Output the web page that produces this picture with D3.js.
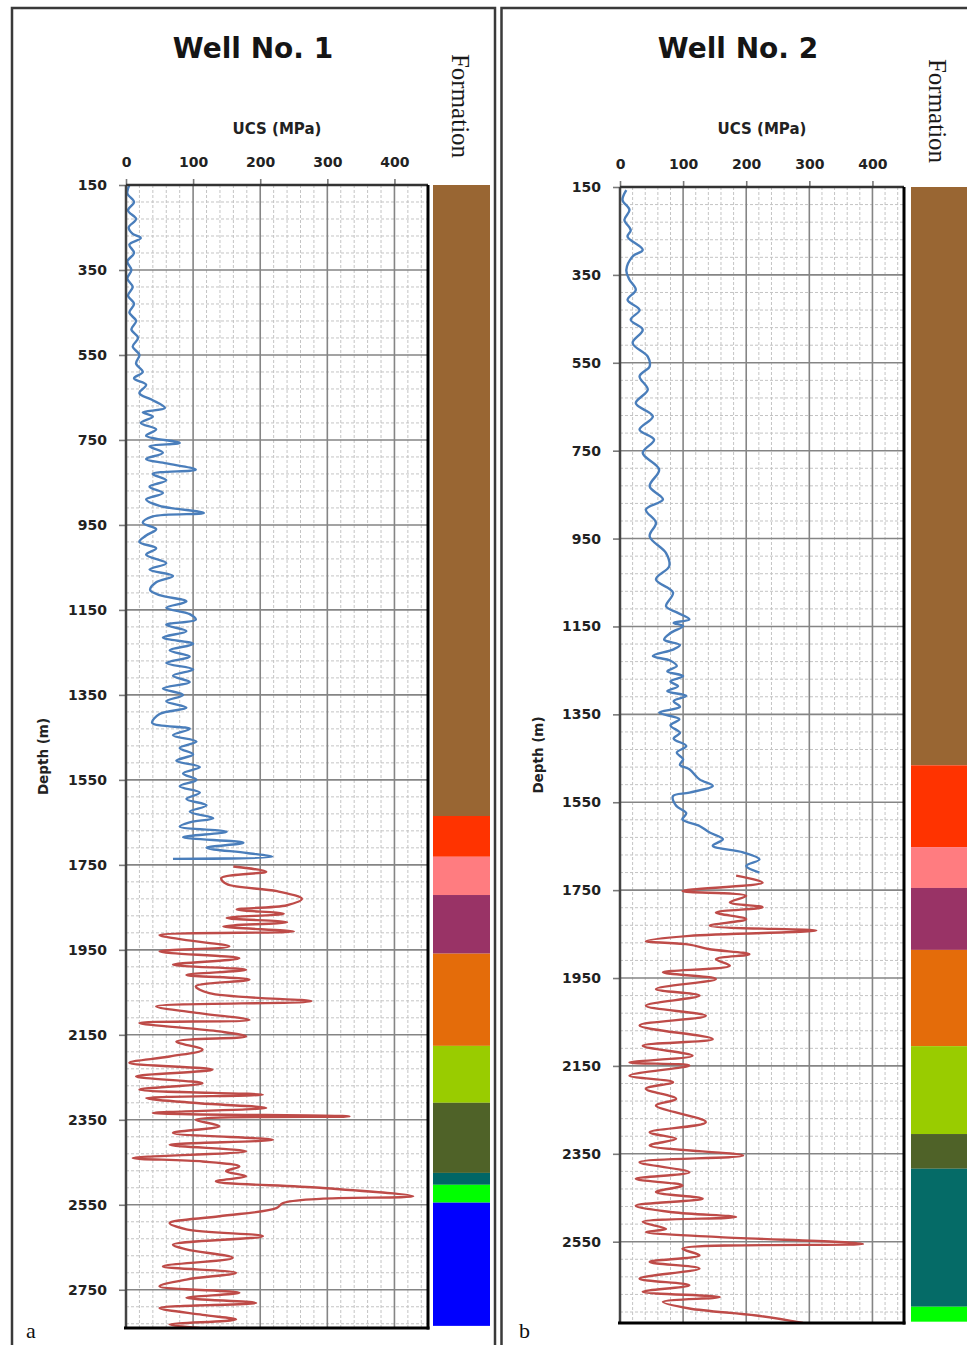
<!DOCTYPE html>
<html>
<head>
<meta charset="utf-8">
<script src="https://cdn.jsdelivr.net/npm/d3@7"></script>
<style>
  body { margin: 0; background: #fff; }
  svg { display: block; }
</style>
</head>
<body>
<svg id="chart" width="967" height="1345"></svg>
<script>
// ---- values -------------------------------------------------------------
const ucsTicks = [0, 100, 200, 300, 400];
const depthTicks = [150, 350, 550, 750, 950, 1150, 1350, 1550, 1750, 1950, 2150, 2350, 2550, 2750];

// Well 1, UCS log [depth m, UCS MPa]: upper (blue) and lower (red) sections
const well1Upper = [
  [150,5],[170,2],[190,12],[210,3],[230,15],[250,4],[265,10],[275,22],[290,5],[310,12],[330,2],[350,8],
  [370,2],[390,10],[410,3],[430,12],[450,5],[470,15],[490,8],[510,18],[530,10],[550,20],[570,15],[590,25],
  [605,12],[620,30],[640,20],[655,38],[675,58],[685,25],[695,40],[710,22],[725,45],[740,30],[757,80],[765,35],
  [780,55],[795,30],[805,60],[820,104],[830,40],[845,60],[860,35],[875,55],[890,30],[905,50],[922,116],[930,40],
  [945,25],[960,45],[975,30],[990,20],[1005,45],[1020,30],[1040,60],[1055,35],[1070,70],[1085,45],[1103,36],
  [1115,50],[1130,90],[1145,60],[1160,95],[1173,104],[1185,60],[1200,90],[1215,55],[1230,100],[1245,65],
  [1260,95],[1275,60],[1290,100],[1305,70],[1320,95],[1335,55],[1350,85],[1365,60],[1380,90],[1395,50],
  [1416,39],[1430,95],[1445,70],[1460,105],[1475,80],[1490,100],[1505,75],[1520,110],[1535,85],[1550,105],
  [1565,80],[1580,110],[1595,90],[1610,120],[1625,95],[1640,130],[1650,95],[1660,80],[1672,150],[1685,85],
  [1698,175],[1710,120],[1722,180],[1731,218],[1736,70]
];
const well1Lower = [
  [1754,160],[1766,209],[1781,142],[1795,150],[1812,225],[1830,262],[1845,240],[1855,165],[1865,235],
  [1875,150],[1885,240],[1895,145],[1907,250],[1915,50],[1926,85],[1942,154],[1954,50],[1970,169],[1985,70],
  [1997,179],[2009,90],[2020,184],[2036,104],[2052,124],[2071,276],[2083,45],[2099,109],[2115,184],[2122,20],
  [2142,139],[2154,179],[2166,75],[2185,114],[2201,65],[2216,5],[2232,129],[2248,15],[2264,114],[2279,20],
  [2291,204],[2299,30],[2311,109],[2322,209],[2334,40],[2342,333],[2350,104],[2365,139],[2381,70],[2397,219],
  [2409,65],[2424,179],[2440,10],[2448,114],[2460,169],[2471,149],[2483,179],[2495,134],[2510,289],[2530,428],
  [2536,289],[2546,234],[2558,224],[2577,139],[2593,65],[2608,90],[2624,204],[2644,70],[2655,90],[2675,159],
  [2695,55],[2710,164],[2726,90],[2742,50],[2757,169],[2769,90],[2781,194],[2793,50],[2809,114],[2820,164],
  [2832,65],[2840,110]
];

// Well 2, UCS log [depth m, UCS MPa]
const well2Upper = [
  [157,10],[180,4],[202,15],[225,7],[248,17],[263,12],[293,36],[308,20],[339,10],[361,15],[384,25],[407,12],
  [430,31],[452,17],[475,36],[505,20],[536,44],[558,47],[581,31],[611,44],[642,25],[672,52],[702,31],[725,54],
  [755,36],[793,62],[831,47],[861,68],[884,41],[914,57],[945,47],[983,73],[1013,78],[1043,57],[1073,84],
  [1104,73],[1118,90],[1134,110],[1142,85],[1149,100],[1165,80],[1180,70],[1192,95],[1202,85],[1217,52],
  [1228,80],[1240,90],[1252,75],[1263,100],[1275,80],[1286,92],[1297,75],[1308,105],[1320,85],[1333,95],
  [1346,62],[1361,94],[1375,80],[1392,95],[1405,85],[1422,105],[1437,90],[1452,100],[1465,95],[1475,110],
  [1498,126],[1513,147],[1528,110],[1536,84],[1558,89],[1575,105],[1589,99],[1604,126],[1619,142],[1634,163],
  [1649,147],[1664,195],[1680,221],[1695,200],[1710,221]
];
const well2Lower = [
  [1717,184],[1733,226],[1752,99],[1763,200],[1778,174],[1789,226],[1801,152],[1816,200],[1831,142],
  [1842,311],[1854,110],[1866,41],[1874,110],[1884,140],[1896,205],[1907,152],[1922,174],[1937,68],[1952,152],
  [1975,57],[1990,126],[2013,41],[2036,136],[2058,31],[2089,147],[2104,36],[2127,115],[2142,15],[2149,110],
  [2172,15],[2187,84],[2202,41],[2225,89],[2240,57],[2278,136],[2301,47],[2316,89],[2331,47],[2354,195],
  [2369,31],[2392,110],[2407,25],[2422,99],[2437,57],[2452,131],[2468,25],[2483,84],[2494,184],[2505,36],
  [2521,73],[2528,41],[2539,152],[2555,385],[2566,99],[2581,126],[2596,47],[2611,126],[2634,31],[2649,110],
  [2664,36],[2676,158],[2687,68],[2702,110],[2718,216],[2735,290]
];

// Formation column: tops of each unit (m), the base of the column, and unit colours
const well1FormationTops = [150, 1635, 1731, 1821, 1959, 2176, 2310, 2475, 2503, 2545];
const well1FormationBase = 2835;
const well1FormationColors = ["#996633", "#FF3300", "#FF7C80", "#993366", "#E46C0A", "#99CC00", "#4F6228", "#006666", "#00FF00", "#0000FF"];

const well2FormationTops = [150, 1466, 1652, 1745, 1886, 2105, 2305, 2384, 2698];
const well2FormationBase = 2732;
const well2FormationColors = ["#996633", "#FF3300", "#FF7C80", "#993366", "#E46C0A", "#99CC00", "#4F6228", "#056B67", "#00FF00"];

const titles = ["Well No. 1", "Well No. 2"];
const panelLetters = ["a", "b"];

// ---- layout -------------------------------------------------------------
const panels = [
  { title: titles[0], letter: panelLetters[0], upper: well1Upper, lower: well1Lower,
    tops: well1FormationTops, base: well1FormationBase, colors: well1FormationColors,
    box: { x: 12, y: 8, w: 483 }, plot: { left: 126, right: 428, top: 185, bottom: 1328 }, depthMax: 2840,
    titleX: 253, ucsX: 277, depthLabelX: 43, formX: 433, formLabelX: 460, letterX: 26 },
  { title: titles[1], letter: panelLetters[1], upper: well2Upper, lower: well2Lower,
    tops: well2FormationTops, base: well2FormationBase, colors: well2FormationColors,
    box: { x: 501.5, y: 8, w: 520 }, plot: { left: 620, right: 904, top: 187, bottom: 1323 }, depthMax: 2735,
    titleX: 738, ucsX: 762, depthLabelX: 538, formX: 911, formLabelX: 937, letterX: 519 }
];

const svg = d3.select("#chart");
const sansBold = "'DejaVu Sans', sans-serif";
const serif = "'Liberation Serif', 'Times New Roman', serif";

panels.forEach((p, i) => {
  const g = svg.append("g");
  const x = d3.scaleLinear().domain([0, 450]).range([p.plot.left, p.plot.right]);
  const y = d3.scaleLinear().domain([150, p.depthMax]).range([p.plot.top, p.plot.bottom]);
  const shownDepthTicks = depthTicks.filter(d => d <= p.depthMax);

  // panel frame
  g.append("rect")
    .attr("x", p.box.x).attr("y", p.box.y).attr("width", p.box.w).attr("height", 1400)
    .attr("fill", "none").attr("stroke", "#3a3a3a").attr("stroke-width", 2.5);

  // title
  g.append("text").text(p.title)
    .attr("x", p.titleX).attr("y", 58).attr("text-anchor", "middle")
    .attr("font-family", sansBold).attr("font-weight", "bold").attr("font-size", 28).attr("fill", "#151515");

  // minor grid
  const minorX = d3.range(0, 451, 20).filter(v => v % 100 !== 0);
  const minorY = d3.range(150, p.depthMax + 1, 40).filter(v => (v - 150) % 200 !== 0);
  g.append("g").selectAll("line").data(minorX).join("line")
    .attr("x1", d => x(d)).attr("x2", d => x(d)).attr("y1", p.plot.top).attr("y2", p.plot.bottom)
    .attr("stroke", "#c4c4c4").attr("stroke-width", 1).attr("stroke-dasharray", "3,2");
  g.append("g").selectAll("line").data(minorY).join("line")
    .attr("y1", d => y(d)).attr("y2", d => y(d)).attr("x1", p.plot.left).attr("x2", p.plot.right)
    .attr("stroke", "#c4c4c4").attr("stroke-width", 1).attr("stroke-dasharray", "3,2");

  // major grid
  g.append("g").selectAll("line").data(ucsTicks.slice(1)).join("line")
    .attr("x1", d => x(d)).attr("x2", d => x(d)).attr("y1", p.plot.top).attr("y2", p.plot.bottom)
    .attr("stroke", "#858585").attr("stroke-width", 1.6);
  g.append("g").selectAll("line").data(shownDepthTicks.slice(1)).join("line")
    .attr("y1", d => y(d)).attr("y2", d => y(d)).attr("x1", p.plot.left).attr("x2", p.plot.right)
    .attr("stroke", "#858585").attr("stroke-width", 1.6);

  // axes
  const topAxis = g.append("g").attr("transform", `translate(0,${p.plot.top})`)
    .call(d3.axisTop(x).tickValues(ucsTicks).tickFormat(d3.format("d")).tickSize(6).tickPadding(12));
  const leftAxis = g.append("g").attr("transform", `translate(${p.plot.left},0)`)
    .call(d3.axisLeft(y).tickValues(shownDepthTicks).tickFormat(d3.format("d")).tickSize(7).tickPadding(12));
  [topAxis, leftAxis].forEach(a => {
    a.select(".domain").remove();
    a.selectAll(".tick line").attr("stroke", "#7a7a7a").attr("stroke-width", 1.6);
    a.selectAll(".tick text").attr("font-family", sansBold).attr("font-weight", "bold")
      .attr("font-size", 14).attr("fill", "#222");
  });

  g.append("text").text("UCS (MPa)")
    .attr("x", p.ucsX).attr("y", 134).attr("text-anchor", "middle")
    .attr("font-family", sansBold).attr("font-weight", "bold").attr("font-size", 15).attr("fill", "#222");

  g.append("text").text("Depth (m)")
    .attr("transform", `translate(${p.depthLabelX + 5},${(p.plot.top + p.plot.bottom) / 2}) rotate(-90)`)
    .attr("text-anchor", "middle")
    .attr("font-family", sansBold).attr("font-weight", "bold").attr("font-size", 13.5).attr("fill", "#222");

  // UCS curves, clipped to the plot area
  const clipId = "clip" + i;
  g.append("clipPath").attr("id", clipId).append("rect")
    .attr("x", p.plot.left).attr("y", p.plot.top)
    .attr("width", p.plot.right - p.plot.left).attr("height", p.plot.bottom - p.plot.top);
  const line = d3.line().x(d => x(d[1])).y(d => y(d[0])).curve(d3.curveCatmullRom.alpha(0.5));
  const curves = g.append("g").attr("clip-path", `url(#${clipId})`);
  curves.append("path").datum(p.upper).attr("d", line)
    .attr("fill", "none").attr("stroke", "#4A7EBB").attr("stroke-width", 2.4).attr("stroke-linejoin", "round");
  curves.append("path").datum(p.lower).attr("d", line)
    .attr("fill", "none").attr("stroke", "#BE4B48").attr("stroke-width", 2.4).attr("stroke-linejoin", "round");

  // plot-area border
  g.append("line").attr("x1", p.plot.left).attr("x2", p.plot.left).attr("y1", p.plot.top).attr("y2", p.plot.bottom)
    .attr("stroke", "#444").attr("stroke-width", 2.5);
  g.append("line").attr("x1", p.plot.left).attr("x2", p.plot.right).attr("y1", p.plot.top).attr("y2", p.plot.top)
    .attr("stroke", "#333").attr("stroke-width", 2.5);
  g.append("line").attr("x1", p.plot.right).attr("x2", p.plot.right).attr("y1", p.plot.top).attr("y2", p.plot.bottom + 1.5)
    .attr("stroke", "#000").attr("stroke-width", 3);
  g.append("line").attr("x1", p.plot.left - 2).attr("x2", p.plot.right + 1.5).attr("y1", p.plot.bottom).attr("y2", p.plot.bottom)
    .attr("stroke", "#000").attr("stroke-width", 3);

  // formation column
  const units = p.tops.map((t, k) => ({ top: t, bottom: k < p.tops.length - 1 ? p.tops[k + 1] : p.base, color: p.colors[k] }));
  g.append("g").selectAll("rect").data(units).join("rect")
    .attr("x", p.formX).attr("width", 57)
    .attr("y", d => y(d.top)).attr("height", d => y(d.bottom) - y(d.top))
    .attr("fill", d => d.color);

  g.append("text").text("Formation")
    .attr("transform", `translate(${p.formLabelX - 8},${106 + i * 5}) rotate(90)`)
    .attr("text-anchor", "middle")
    .attr("font-family", serif).attr("font-size", 25).attr("fill", "#1a1a1a");

  g.append("text").text(p.letter)
    .attr("x", p.letterX).attr("y", 1338)
    .attr("font-family", serif).attr("font-size", 22).attr("fill", "#111");
});
</script>
</body>
</html>
